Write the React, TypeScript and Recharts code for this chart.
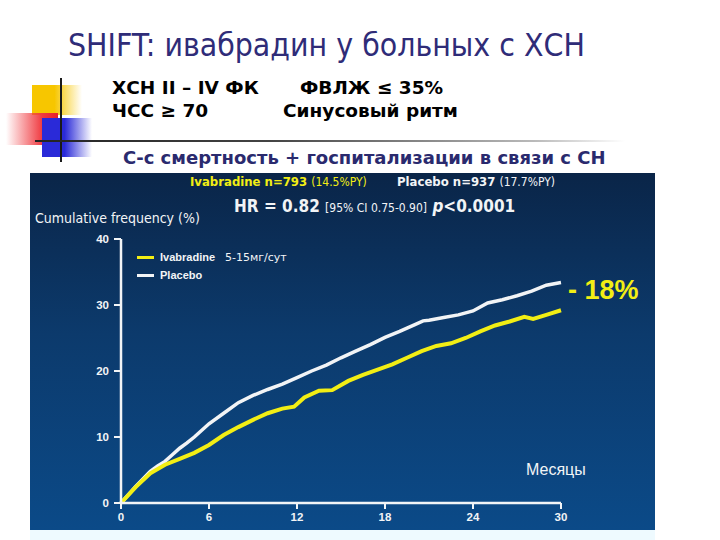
import React from 'react';
import { LineChart, Line, XAxis, YAxis } from 'recharts';

const monthTicks = [0, 6, 12, 18, 24, 30];
const freqTicks = [0, 10, 20, 30, 40];

const placeboMonths = [0, 1, 2, 2.5, 3, 3.5, 4, 4.5, 5, 6, 7, 8, 9, 10, 11, 12, 13, 14, 15, 16, 17, 18, 19, 20, 20.6, 21, 22, 23, 24, 25, 26, 27, 28, 29, 30];
const placeboValues = [0, 2.5, 4.8, 5.6, 6.3, 7.3, 8.3, 9.1, 10.0, 12.0, 13.6, 15.2, 16.3, 17.2, 18.0, 19.0, 20.0, 20.9, 22.0, 23.0, 24.0, 25.1, 26.0, 27.0, 27.6, 27.7, 28.1, 28.5, 29.1, 30.3, 30.8, 31.4, 32.1, 33.0, 33.4];

const ivabradineMonths = [0, 1, 2, 3, 4, 5, 6, 7, 8, 9, 10, 11, 11.8, 12.5, 13.5, 14.4, 15.5, 16.5, 17.5, 18.5, 19.5, 20.5, 21.5, 22.5, 23.5, 24.5, 25.5, 26.5, 27.5, 28.1, 29, 30];
const ivabradineValues = [0, 2.4, 4.5, 5.8, 6.7, 7.6, 8.8, 10.3, 11.5, 12.6, 13.6, 14.3, 14.6, 16.0, 17.0, 17.1, 18.5, 19.4, 20.2, 21.0, 22.0, 23.0, 23.8, 24.2, 25.0, 26.0, 26.9, 27.5, 28.2, 27.9, 28.5, 29.2];

const placeboData = placeboMonths.map((m, i) => ({ m, v: placeboValues[i] }));
const ivabradineData = ivabradineMonths.map((m, i) => ({ m, v: ivabradineValues[i] }));

const NARROW = '"DejaVu Sans Condensed", "Liberation Sans", sans-serif';
const WIDE = '"DejaVu Sans", sans-serif';
const ARIAL = '"Liberation Sans", sans-serif';
const YELLOW = '#f2ee14';
const WHITE = '#f2f4f6';

const abs = (left: number, top: number, extra: React.CSSProperties = {}): React.CSSProperties => ({
  position: 'absolute', left, top, whiteSpace: 'nowrap', ...extra,
});

export default function App() {
  return (
    <div style={{ position: 'absolute', left: 0, top: 0, width: 720, height: 540, background: '#ffffff', overflow: 'hidden' }}>
      {/* decoration */}
      <div style={abs(32, 85, { width: 50, height: 30, background: 'linear-gradient(90deg, #f7c600 0%, #f7c600 45%, rgba(247,198,0,0) 100%)' })} />
      <div style={abs(6, 113, { width: 52, height: 32, background: 'linear-gradient(90deg, rgba(240,40,50,0) 0%, #f03a40 70%, #e8202a 100%)' })} />
      <div style={abs(42, 118, { width: 50, height: 39, background: 'linear-gradient(90deg, #2a2ad8 0%, #2a2ad8 45%, rgba(42,42,216,0) 100%)' })} />
      <div style={abs(60, 78, { width: 2, height: 84, background: '#1a1a1a' })} />
      <div style={abs(35, 140, { width: 590, height: 2, background: 'linear-gradient(90deg, #222 0%, #444 40%, #bbb 85%, rgba(220,220,220,0) 100%)' })} />

      {/* titles */}
      <div style={abs(68, 27, { fontFamily: NARROW, fontSize: 31.7, color: '#2f2c78', lineHeight: '36px' })}>SHIFT: ивабрадин у больных с ХСН</div>
      <div style={abs(112, 77, { fontFamily: WIDE, fontWeight: 700, fontSize: 18.5, color: '#000', lineHeight: '22px' })}>ХСН II – IV ФК</div>
      <div style={abs(300, 77, { fontFamily: WIDE, fontWeight: 700, fontSize: 18.5, color: '#000', lineHeight: '22px' })}>ФВЛЖ ≤ 35%</div>
      <div style={abs(112, 100, { fontFamily: WIDE, fontWeight: 700, fontSize: 18.5, color: '#000', lineHeight: '22px' })}>ЧСС ≥ 70</div>
      <div style={abs(283, 100, { fontFamily: WIDE, fontWeight: 700, fontSize: 18.5, color: '#000', lineHeight: '22px' })}>Синусовый ритм</div>
      <div style={abs(123, 147, { fontFamily: WIDE, fontWeight: 700, fontSize: 18, color: '#2a2a6e', lineHeight: '22px' })}>С-с смертность + госпитализации в связи с СН</div>

      {/* panel */}
      <div style={abs(30, 173, { width: 625, height: 357, background: 'linear-gradient(180deg, #0a2548 0%, #0c3a6c 45%, #0b4a88 100%)' })}>
        <div style={abs(160, 1, { fontFamily: NARROW, fontWeight: 700, fontSize: 13, color: YELLOW })}>
          Ivabradine n=793 <span style={{ fontWeight: 400, fontSize: 12 }}>(14.5%PY)</span>
        </div>
        <div style={abs(367, 1, { fontFamily: NARROW, fontWeight: 700, fontSize: 13, color: WHITE })}>
          Placebo n=937 <span style={{ fontWeight: 400, fontSize: 12 }}>(17.7%PY)</span>
        </div>
        <div style={abs(204, 23, { fontFamily: NARROW, fontSize: 17, color: WHITE, fontWeight: 700 })}>
          HR = 0.82 <span style={{ fontSize: 12, fontWeight: 400 }}>[95% CI 0.75-0.90]</span>{' '}
          <i>p</i>&lt;0.0001
        </div>
        <div style={abs(5, 37, { fontFamily: NARROW, fontSize: 14, color: WHITE })}>Cumulative frequency (%)</div>
        <div style={abs(538, 102, { fontFamily: ARIAL, fontSize: 27, fontWeight: 700, color: YELLOW })}>- 18%</div>
        <div style={abs(496, 288, { fontFamily: ARIAL, fontSize: 16, color: WHITE })}>Месяцы</div>

        {/* legend */}
        <div style={abs(107, 75, { fontFamily: ARIAL, color: WHITE, fontSize: 11, fontWeight: 700 })}>
          <div style={{ display: 'flex', alignItems: 'center', height: 18 }}>
            <span style={{ display: 'inline-block', width: 17, height: 3, background: YELLOW, marginRight: 6 }} />
            <span>Ivabradine</span>
            <span style={{ fontWeight: 400, fontFamily: WIDE, fontSize: 11, marginLeft: 10 }}>5-15мг/сут</span>
          </div>
          <div style={{ display: 'flex', alignItems: 'center', height: 18 }}>
            <span style={{ display: 'inline-block', width: 17, height: 3, background: WHITE, marginRight: 6 }} />
            <span>Placebo</span>
          </div>
        </div>

        <div style={abs(0, 0)}>
          <LineChart width={625} height={357} margin={{ top: 66, right: 94, bottom: 7, left: 51 }}>
            <XAxis
              dataKey="m"
              type="number"
              domain={[0, 30]}
              ticks={monthTicks}
              allowDuplicatedCategory={false}
              height={20}
              tickSize={6}
              tickMargin={4}
              axisLine={{ stroke: WHITE, strokeWidth: 2.5 }}
              tickLine={{ stroke: WHITE, strokeWidth: 2 }}
              tick={{ fill: WHITE, fontSize: 11.5, fontWeight: 700, fontFamily: ARIAL }}
            />
            <YAxis
              type="number"
              domain={[0, 40]}
              ticks={freqTicks}
              width={40}
              tickSize={7}
              tickMargin={5}
              axisLine={{ stroke: WHITE, strokeWidth: 2.5 }}
              tickLine={{ stroke: WHITE, strokeWidth: 2 }}
              tick={{ fill: WHITE, fontSize: 11.5, fontWeight: 700, fontFamily: ARIAL }}
            />
            <Line data={placeboData} dataKey="v" name="Placebo" type="linear" stroke={WHITE} strokeWidth={3.5} dot={false} isAnimationActive={false} />
            <Line data={ivabradineData} dataKey="v" name="Ivabradine" type="linear" stroke={YELLOW} strokeWidth={4} dot={false} isAnimationActive={false} />
          </LineChart>
        </div>
      </div>
      <div style={abs(30, 530, { width: 625, height: 10, background: '#eefaff' })} />
    </div>
  );
}
